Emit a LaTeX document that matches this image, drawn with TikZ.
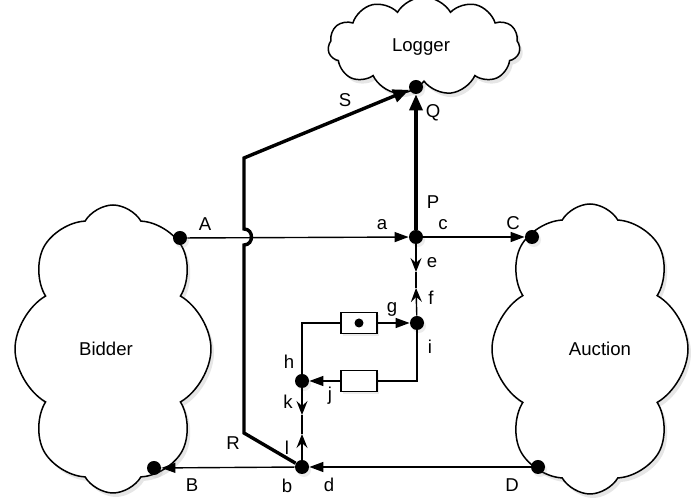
\documentclass[tikz,border=0pt]{standalone}
\usepackage{fontspec}
\setmainfont{Liberation Sans}
\usetikzlibrary{shapes.symbols,shadows,arrows.meta}

\begin{document}
\begin{tikzpicture}[x=0.5pt,y=-0.5pt,font=\fontsize{9.3}{11}\selectfont]
    \tikzstyle{blob}=[cloud,draw,fill=white,line width=0.75pt,cloud
    ignores aspect,cloud puff arc=120,drop shadow={opacity=0.2,shadow
    xshift=1.5pt,shadow yshift=-2pt}];
    \tikzstyle{port}=[circle,fill,inner sep=0pt,minimum size=7pt,drop
    shadow={opacity=0.15,shadow xshift=1pt,shadow yshift=-1.5pt}];
    \tikzstyle{buffer}=[draw,fill=white,line width=0.6pt,inner sep=0pt,
    minimum width=18pt,minimum height=10.5pt,drop shadow={opacity=0.15,
    shadow xshift=1pt,shadow yshift=-1.5pt}];
    \tikzstyle{msg}=[line width=0.7pt,-{Triangle[length=7pt,width=5pt]}];
    \tikzstyle{logged}=[line width=1.7pt,-{Triangle[length=8pt,width=6.5pt]}];
    \tikzstyle{half}=[line width=0.7pt,-{Stealth[length=7pt,width=5.5pt,inset=2.5pt]}];
    \tikzstyle{tag}=[inner sep=0pt];

    \useasboundingbox (0,0) rectangle (692,501);

    % the three parties
    \node (bidder) [blob,cloud puffs=8,minimum width=98pt,minimum
    height=144pt] at (113,349) {}; \node (auction) [blob,cloud
    puffs=8,shape border rotate=180,minimum width=98pt,minimum
    height=145pt] at (590,349) {};
    \node (logger) [blob,cloud puffs=11,minimum width=96pt,minimum
    height=49pt] at (424,46) {};
    \node (biddertxt) [tag] at (106,349) {Bidder}; \node (auctiontxt)
    [tag] at (600,349) {Auction}; \node (loggertxt) [tag] at (421,47)
    {Logger};

    % ports
    \node (A) [port] at (180,238) {}; \node (B) [port] at (154,468) {};
    \node (C) [port] at (532,237) {}; \node (D) [port] at (538,467) {};
    \node (Q) [port] at (416,87) {}; \node (hub) [port] at (416,237)
    {}; \node (i) [port] at (417,323) {}; \node (h) [port] at (302,381)
    {}; \node (b) [port] at (302,467) {};

    \node (gbox) [buffer] at (359,323) {}; \node (gdot) [circle,fill,
    inner sep=0pt,minimum size=4.5pt] at (359,323) {}; \node (jbox)
    [buffer] at (359,381) {};

    \coordinate (e) at (416,272); \coordinate (f) at (416,288);
    \coordinate (k) at (302,415); \coordinate (l) at (302,434);
    \coordinate (rbend) at (244,433); \coordinate (hopb) at (244,245);
    \coordinate (hopt) at (244,229); \coordinate (sbend) at (244,158);

    % messages
    \draw[msg] (A) -- (hub); \draw[msg] (hub) -- (C); \draw[msg] (D)
    -- (b); \draw[msg] (b) -- (B); \draw[logged] (hub) -- (Q);
    \draw[logged] (b) -- (rbend) -- (hopb) .. controls (254,245) and
    (254,229) .. (hopt) -- (sbend) -- (Q);

    \draw[half] (hub) -- (e); \draw[line width=0.7pt] (e) -- (f);
    \draw[half] (i) -- (f); \draw[half] (h) -- (k); \draw[line
    width=0.7pt] (k) -- (l); \draw[half] (b) -- (l);

    \draw[line width=0.7pt] (h) |- (gbox); \draw[msg] (gbox) -- (i);
    \draw[line width=0.7pt] (i) |- (jbox); \draw[msg] (jbox) -- (h);

    % labels
    \node (tA) [tag] at (205,224) {A}; \node (ta) [tag] at (382,225)
    {a}; \node (tc) [tag] at (443,225) {c}; \node (tC) [tag] at
    (513,223) {C}; \node (tP) [tag] at (433,202) {P}; \node (tQ) [tag]
    at (433,113) {Q}; \node (tS) [tag] at (345,100) {S}; \node (te)
    [tag] at (432,263) {e}; \node (tf) [tag] at (431,298) {f}; \node
    (tg) [tag] at (392,309) {g}; \node (ti) [tag] at (430,347) {i};
    \node (th) [tag] at (289,362) {h}; \node (tj) [tag] at (330,396)
    {j}; \node (tk) [tag] at (288,402) {k}; \node (tl) [tag] at
    (287,448) {l}; \node (tR) [tag] at (233,443) {R}; \node (tb) [tag]
    at (287,486) {b}; \node (td) [tag] at (329,485) {d}; \node (tB)
    [tag] at (192,485) {B}; \node (tD) [tag] at (512,485) {D};
\end{tikzpicture}
\end{document}
